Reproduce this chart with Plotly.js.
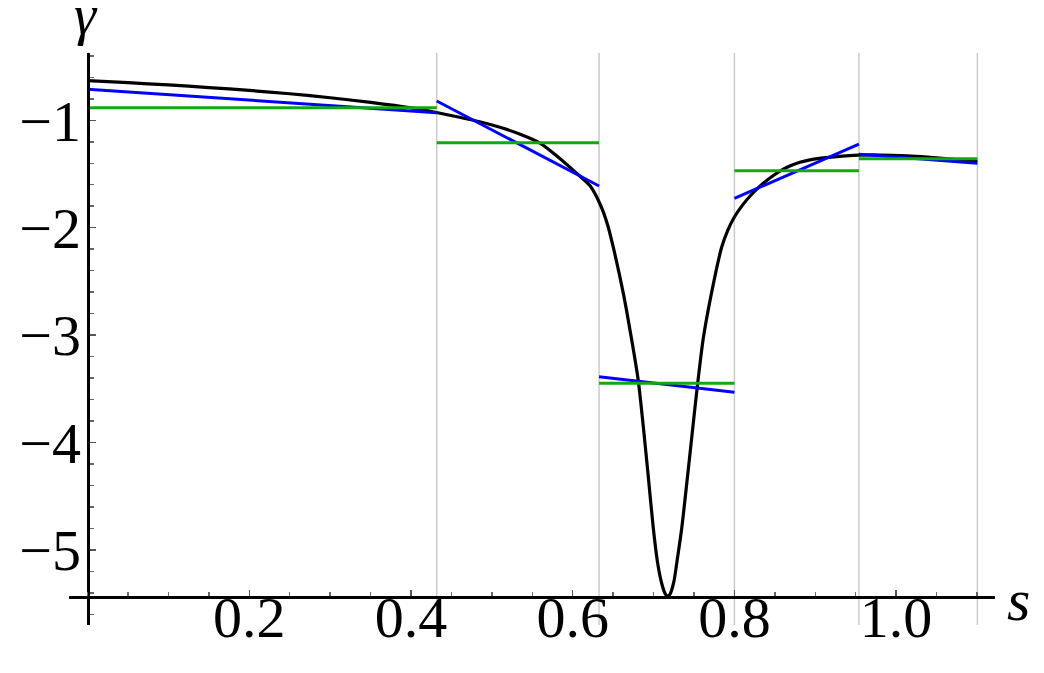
<!DOCTYPE html>
<html>
<head>
<meta charset="utf-8">
<script src="https://cdn.plot.ly/plotly-3.0.1.min.js"></script>
<style>html,body{margin:0;padding:0;background:#fff;} #chart{width:1044px;height:673px;}</style>
</head>
<body>
<div id="chart"></div>
<script>
// black curve gamma(s)
const sValues = [0, 0.05, 0.10, 0.15, 0.20, 0.25, 0.30, 0.35, 0.40, 0.43, 0.46, 0.485, 0.51, 0.535, 0.56, 0.58, 0.605, 0.6215, 0.635, 0.643, 0.650, 0.6626, 0.673, 0.681, 0.6873, 0.6935, 0.6997, 0.705, 0.710, 0.7145, 0.7175, 0.7205, 0.725, 0.7295, 0.7348, 0.7418, 0.7484, 0.7541, 0.7615, 0.7719, 0.7843, 0.792, 0.800, 0.81, 0.82, 0.83, 0.84, 0.85, 0.8605, 0.87, 0.881, 0.8935, 0.91, 0.93, 0.953, 0.98, 1.013, 1.05, 1.08, 1.1005];
const gammaValues = [-0.631, -0.650, -0.671, -0.695, -0.722, -0.753, -0.790, -0.833, -0.884, -0.925, -0.972, -1.013, -1.065, -1.13, -1.214, -1.33, -1.494, -1.61, -1.80, -1.97, -2.177, -2.611, -3.046, -3.418, -3.85, -4.32, -4.80, -5.12, -5.31, -5.41, -5.435, -5.41, -5.30, -5.08, -4.80, -4.33, -3.87, -3.48, -3.03, -2.60, -2.18, -2.02, -1.90, -1.79, -1.70, -1.625, -1.56, -1.505, -1.455, -1.42, -1.39, -1.368, -1.35, -1.335, -1.325, -1.323, -1.332, -1.35, -1.37, -1.385];

// piecewise segments
const segmentBounds = [0, 0.4318, 0.6326, 0.800, 0.954, 1.1005];
const blueStart = [-0.711, -0.820, -3.387, -1.726, -1.317];
const blueEnd = [-0.929, -1.612, -3.533, -1.221, -1.400];
const greenLevel = [-0.883, -1.208, -3.449, -1.469, -1.358];

// ticks
const xTickVals = [0.2, 0.4, 0.6, 0.8, 1.0];
const xTickText = ["0.2", "0.4", "0.6", "0.8", "1.0"];
const yTickVals = [-1, -2, -3, -4, -5];
const yTickText = ["\u22121", "\u22122", "\u22123", "\u22124", "\u22125"];

const axisMinY = -5.435;

const blueX = [], blueY = [], greenX = [], greenY = [];
for (let i = 0; i < blueStart.length; i++) {
  blueX.push(segmentBounds[i], segmentBounds[i + 1], null);
  blueY.push(blueStart[i], blueEnd[i], null);
  greenX.push(segmentBounds[i], segmentBounds[i + 1], null);
  greenY.push(greenLevel[i], greenLevel[i], null);
}

const traces = [
  {x: sValues, y: gammaValues, type: 'scatter', mode: 'lines', line: {color: '#000', width: 3.2, shape: 'spline', smoothing: 0.7}, hoverinfo: 'skip'},
  {x: blueX, y: blueY, type: 'scatter', mode: 'lines', line: {color: '#0000ff', width: 3}, connectgaps: false, hoverinfo: 'skip'},
  {x: greenX, y: greenY, type: 'scatter', mode: 'lines', line: {color: '#12a812', width: 3}, connectgaps: false, hoverinfo: 'skip'},
  // empty carrier trace so the label axes are drawn
  {x: [], y: [], xaxis: 'x2', yaxis: 'y2', type: 'scatter', mode: 'lines', hoverinfo: 'skip'}
];

const shapes = segmentBounds.slice(1).map(b => ({
  type: 'line', xref: 'x', yref: 'paper', x0: b, x1: b, y0: 0, y1: 1,
  line: {color: '#c8c8c8', width: 1.4}, layer: 'below'
}));

const xr = [-0.0230, 1.1223];
const yr = [-5.699, -0.3734];
const font = {family: 'Liberation Serif, Times New Roman, serif', size: 58, color: '#000'};
const plotW = 926, plotH = 572;

const layout = {
  width: 1044, height: 673,
  margin: {l: 69, r: 49, t: 53, b: 48, pad: 0},
  paper_bgcolor: '#fff', plot_bgcolor: '#fff',
  showlegend: false,
  font: font,
  xaxis: {
    range: xr, anchor: 'free', position: (axisMinY - yr[0]) / (yr[1] - yr[0]),
    showgrid: false, zeroline: false, showline: true, linecolor: '#000', linewidth: 3.5,
    tickmode: 'array', tickvals: xTickVals, showticklabels: false,
    ticks: 'inside', ticklen: 6, tickwidth: 1.5, tickcolor: '#555',
    minor: {tick0: 0, dtick: 0.05, ticks: 'inside', ticklen: 4, tickwidth: 1.5, tickcolor: '#666', showgrid: false},
    fixedrange: true
  },
  yaxis: {
    range: yr, anchor: 'free', position: (0 - xr[0]) / (xr[1] - xr[0]),
    showgrid: false, zeroline: false, showline: true, linecolor: '#000', linewidth: 3,
    tickmode: 'array', tickvals: yTickVals, showticklabels: false,
    ticks: 'inside', ticklen: 6, tickwidth: 1.5, tickcolor: '#555',
    minor: {tick0: 0, dtick: 0.2, ticks: 'inside', ticklen: 4, tickwidth: 1.5, tickcolor: '#666', showgrid: false},
    fixedrange: true
  },
  // label-only axes, placed so the numbers sit where the reference shows them
  xaxis2: {
    range: xr, overlaying: 'x', anchor: 'free', position: (625 - 578) / plotH,
    showgrid: false, zeroline: false, showline: false, ticks: '',
    tickmode: 'array', tickvals: xTickVals, ticktext: xTickText, tickfont: font, fixedrange: true
  },
  yaxis2: {
    range: yr, overlaying: 'y', anchor: 'free', position: (81 - 69) / plotW,
    showgrid: false, zeroline: false, showline: false, ticks: '',
    tickmode: 'array', tickvals: yTickVals, ticktext: yTickText, tickfont: font, fixedrange: true
  },
  shapes: shapes,
  annotations: [
    {text: '<i>γ</i>', xref: 'paper', yref: 'paper', x: (86 - 69) / plotW, y: (625 - 15) / plotH,
     xanchor: 'center', yanchor: 'middle', showarrow: false, font: {family: font.family, size: 56, color: '#000'}},
    {text: '<i>s</i>', xref: 'paper', yref: 'paper', x: (1019 - 69) / plotW, y: (625 - 600) / plotH,
     xanchor: 'center', yanchor: 'middle', showarrow: false, font: {family: font.family, size: 60, color: '#000'}}
  ]
};

Plotly.newPlot('chart', traces, layout, {staticPlot: true, displayModeBar: false});
</script>
</body>
</html>
